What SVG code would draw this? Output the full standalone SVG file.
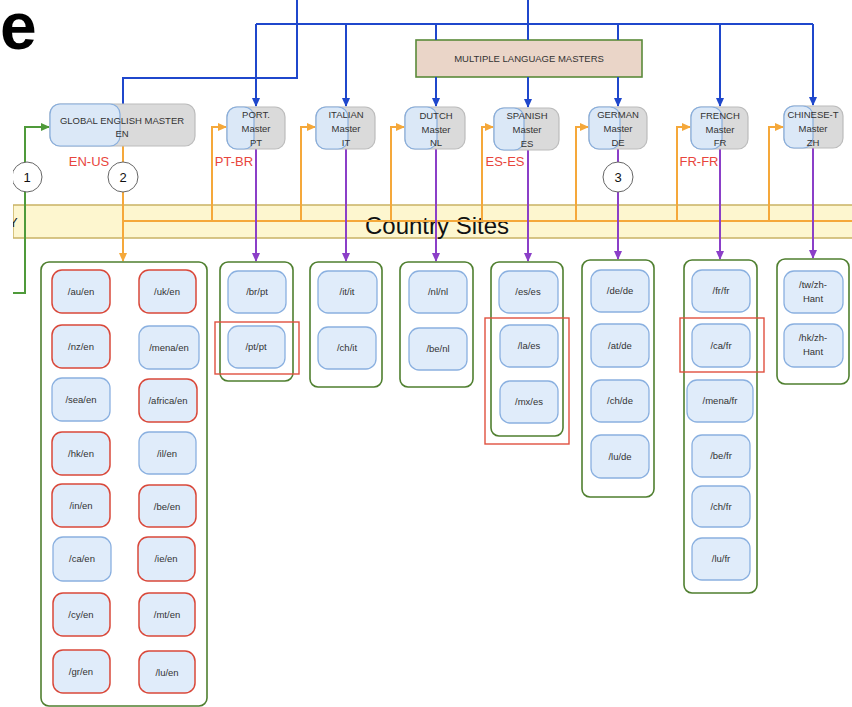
<svg xmlns="http://www.w3.org/2000/svg" width="852" height="707" viewBox="0 0 852 707">
<style>
text{font-family:"Liberation Sans",Arial,sans-serif;fill:#333}
.grp{fill:#fff;stroke:#4f7f2f;stroke-width:1.6}
.leaf{fill:#e0ecfa;stroke:#8ab0e0;stroke-width:1.3}
.leafr{fill:#e0ecfa;stroke:#d9483a;stroke-width:1.5}
.lt{font-size:9.5px;text-anchor:middle}
.mg{fill:#dadada;stroke:#bcbcbc;stroke-width:1.2}
.mb{fill:#dbe8f7;stroke:#88aedd;stroke-width:1.2}
.mt{font-size:9.5px;text-anchor:middle;fill:#333}
.red{font-size:13px;fill:#e8453c;text-anchor:middle}
.circ{fill:#fff;stroke:#666;stroke-width:1}
.ct{font-size:13px;text-anchor:middle;fill:#111}
.hl{fill:none;stroke:#e0513f;stroke-width:1.4}
.bl{fill:none;stroke:#1f47cc;stroke-width:2}
.or{fill:none;stroke:#f5a83a;stroke-width:2}
.pu{fill:none;stroke:#8b3fc8;stroke-width:2}
.gr{fill:none;stroke:#4f9a3a;stroke-width:2}
</style>
<defs>
<marker id="ab" markerWidth="10" markerHeight="10" refX="8" refY="5" orient="auto" markerUnits="userSpaceOnUse"><path d="M0,1 L9,5 L0,9 Z" fill="#1f47cc"/></marker>
<marker id="ao" markerWidth="10" markerHeight="10" refX="8" refY="5" orient="auto" markerUnits="userSpaceOnUse"><path d="M0,1 L9,5 L0,9 Z" fill="#f5a83a"/></marker>
<marker id="ap" markerWidth="10" markerHeight="10" refX="8" refY="5" orient="auto" markerUnits="userSpaceOnUse"><path d="M0,1 L9,5 L0,9 Z" fill="#8b3fc8"/></marker>
<marker id="ag" markerWidth="10" markerHeight="10" refX="8" refY="5" orient="auto" markerUnits="userSpaceOnUse"><path d="M0,1 L9,5 L0,9 Z" fill="#4f9a3a"/></marker>
<clipPath id="crop"><rect x="13" y="0" width="839" height="707"/></clipPath>
</defs>
<rect width="852" height="707" fill="#fff"/>
<text x="0" y="49" style="font-size:66px;font-weight:bold;fill:#000">e</text>

<g clip-path="url(#crop)">
<g id="country-sites">
<rect x="13" y="205" width="845" height="33" fill="#fdf6cf" stroke="#c9b264" stroke-width="1.5"/>
<text x="9" y="227" style="font-size:13px;fill:#222">Y</text>
<text x="437" y="234" style="font-size:24px;text-anchor:middle;fill:#111">Country Sites</text>
</g>

<g id="multi-masters">
<rect x="416" y="40" width="226" height="37" fill="#ead5c8" stroke="#5a8a3a" stroke-width="1.6"/>
<text class="mt" x="529" y="62">MULTIPLE LANGUAGE MASTERS</text>
</g>

<g id="connectors">
<path class="bl" d="M297,0 V78 H123 V104"/>
<path class="bl" d="M256,24 H813"/>
<path class="bl" d="M528,0 V40"/>
<path class="bl" d="M256,24 V106" marker-end="url(#ab)"/>
<path class="bl" d="M346,24 V106" marker-end="url(#ab)"/>
<path class="bl" d="M436,24 V40"/>
<path class="bl" d="M436,77 V106" marker-end="url(#ab)"/>
<path class="bl" d="M528,77 V107" marker-end="url(#ab)"/>
<path class="bl" d="M618,24 V40"/>
<path class="bl" d="M618,77 V106" marker-end="url(#ab)"/>
<path class="bl" d="M720,24 V106" marker-end="url(#ab)"/>
<path class="bl" d="M813,24 V105" marker-end="url(#ab)"/>

<path class="gr" d="M13,293 H25 V127 H49" marker-end="url(#ag)"/>

<path class="or" d="M123,146 V162"/>
<path class="or" d="M123,192 V261" marker-end="url(#ao)"/>
<path class="or" d="M123,221 H852"/>
<path class="or" d="M212,221 V127 H226" marker-end="url(#ao)"/>
<path class="or" d="M301,221 V127 H315" marker-end="url(#ao)"/>
<path class="or" d="M391,221 V127 H404" marker-end="url(#ao)"/>
<path class="or" d="M482,221 V127 H493" marker-end="url(#ao)"/>
<path class="or" d="M576,221 V127 H588" marker-end="url(#ao)"/>
<path class="or" d="M677,221 V127 H690" marker-end="url(#ao)"/>
<path class="or" d="M769,221 V127 H783" marker-end="url(#ao)"/>

<path class="pu" d="M256,149 V261" marker-end="url(#ap)"/>
<path class="pu" d="M346,149 V261" marker-end="url(#ap)"/>
<path class="pu" d="M436,149 V261" marker-end="url(#ap)"/>
<path class="pu" d="M528,150 V261" marker-end="url(#ap)"/>
<path class="pu" d="M618,149 V162"/>
<path class="pu" d="M618,192 V259" marker-end="url(#ap)"/>
<path class="pu" d="M720,149 V259" marker-end="url(#ap)"/>
<path class="pu" d="M813,148 V258" marker-end="url(#ap)"/>
</g>

<g id="circle-1"><circle class="circ" cx="27" cy="177" r="15"/><text class="ct" x="27" y="182">1</text></g>
<g id="circle-2"><circle class="circ" cx="123" cy="177" r="15"/><text class="ct" x="123" y="182">2</text></g>
<g id="circle-3"><circle class="circ" cx="618" cy="177" r="15"/><text class="ct" x="618" y="182">3</text></g>

<g id="master-en">
<rect class="mg" x="50" y="104" width="145" height="42" rx="10"/>
<rect class="mb" x="50" y="104" width="70" height="42" rx="10"/>
<text class="mt" x="122" y="124">GLOBAL ENGLISH MASTER</text>
<text class="mt" x="122" y="137">EN</text>
<text class="red" x="89" y="166">EN-US</text>
</g>
<g id="master-pt">
<rect class="mg" x="227" y="107" width="58" height="42" rx="10"/>
<rect class="mb" x="227" y="107" width="27" height="42" rx="10"/>
<text class="mt" x="256" y="118">PORT.</text><text class="mt" x="256" y="132">Master</text><text class="mt" x="256" y="146">PT</text>
<text class="red" x="234" y="166">PT-BR</text>
</g>
<g id="master-it">
<rect class="mg" x="316" y="107" width="59" height="42" rx="10"/>
<rect class="mb" x="316" y="107" width="32" height="42" rx="10"/>
<text class="mt" x="346" y="118">ITALIAN</text><text class="mt" x="346" y="132">Master</text><text class="mt" x="346" y="146">IT</text>
</g>
<g id="master-nl">
<rect class="mg" x="405" y="107" width="60" height="42" rx="10"/>
<rect class="mb" x="405" y="107" width="32" height="42" rx="10"/>
<text class="mt" x="436" y="119">DUTCH</text><text class="mt" x="436" y="133">Master</text><text class="mt" x="436" y="146">NL</text>
</g>
<g id="master-es">
<rect class="mg" x="494" y="108" width="65" height="42" rx="10"/>
<rect class="mb" x="494" y="108" width="30" height="42" rx="10"/>
<text class="mt" x="527" y="119">SPANISH</text><text class="mt" x="527" y="133">Master</text><text class="mt" x="527" y="147">ES</text>
<text class="red" x="505" y="166">ES-ES</text>
</g>
<g id="master-de">
<rect class="mg" x="589" y="107" width="58" height="42" rx="10"/>
<rect class="mb" x="589" y="107" width="31" height="42" rx="10"/>
<text class="mt" x="618" y="118">GERMAN</text><text class="mt" x="618" y="132">Master</text><text class="mt" x="618" y="146">DE</text>
</g>
<g id="master-fr">
<rect class="mg" x="691" y="107" width="57" height="42" rx="10"/>
<rect class="mb" x="691" y="107" width="31" height="42" rx="10"/>
<text class="mt" x="720" y="119">FRENCH</text><text class="mt" x="720" y="133">Master</text><text class="mt" x="720" y="146">FR</text>
<text class="red" x="699" y="166">FR-FR</text>
</g>
<g id="master-zh">
<rect class="mg" x="784" y="106" width="59" height="42" rx="10"/>
<rect class="mb" x="784" y="106" width="29" height="42" rx="10"/>
<text class="mt" x="813" y="118">CHINESE-T</text><text class="mt" x="813" y="132">Master</text><text class="mt" x="813" y="146">ZH</text>
</g>
</g>

<g id="group-en">
<rect class="grp" x="41" y="262" width="166" height="444" rx="8"/>
<g id="au-en"><rect class="leafr" x="52" y="270" width="58" height="43" rx="10"/><text class="lt" x="81" y="295">/au/en</text></g>
<g id="nz-en"><rect class="leafr" x="52" y="325" width="58" height="43" rx="10"/><text class="lt" x="81" y="350">/nz/en</text></g>
<g id="sea-en"><rect class="leaf" x="52" y="378" width="58" height="43" rx="10"/><text class="lt" x="81" y="403">/sea/en</text></g>
<g id="hk-en"><rect class="leafr" x="52" y="432" width="58" height="43" rx="10"/><text class="lt" x="81" y="457">/hk/en</text></g>
<g id="in-en"><rect class="leafr" x="52" y="484" width="58" height="43" rx="10"/><text class="lt" x="81" y="509">/in/en</text></g>
<g id="ca-en"><rect class="leaf" x="53" y="537" width="58" height="44" rx="10"/><text class="lt" x="82" y="562">/ca/en</text></g>
<g id="cy-en"><rect class="leafr" x="53" y="593" width="57" height="43" rx="10"/><text class="lt" x="81" y="618">/cy/en</text></g>
<g id="gr-en"><rect class="leafr" x="53" y="650" width="57" height="43" rx="10"/><text class="lt" x="81" y="675">/gr/en</text></g>
<g id="uk-en"><rect class="leafr" x="139" y="270" width="57" height="43" rx="10"/><text class="lt" x="167" y="295">/uk/en</text></g>
<g id="mena-en"><rect class="leaf" x="139" y="326" width="60" height="43" rx="10"/><text class="lt" x="169" y="351">/mena/en</text></g>
<g id="africa-en"><rect class="leafr" x="139" y="379" width="58" height="43" rx="10"/><text class="lt" x="168" y="404">/africa/en</text></g>
<g id="il-en"><rect class="leaf" x="139" y="432" width="57" height="42" rx="10"/><text class="lt" x="167" y="457">/il/en</text></g>
<g id="be-en"><rect class="leafr" x="139" y="485" width="57" height="42" rx="10"/><text class="lt" x="167" y="510">/be/en</text></g>
<g id="ie-en"><rect class="leafr" x="138" y="537" width="57" height="44" rx="10"/><text class="lt" x="166" y="562">/ie/en</text></g>
<g id="mt-en"><rect class="leafr" x="139" y="593" width="56" height="43" rx="10"/><text class="lt" x="167" y="618">/mt/en</text></g>
<g id="lu-en"><rect class="leafr" x="139" y="651" width="56" height="42" rx="10"/><text class="lt" x="167" y="676">/lu/en</text></g>
</g>

<g id="group-pt">
<rect class="grp" x="220" y="262" width="73" height="119" rx="8"/>
<g id="br-pt"><rect class="leaf" x="228" y="271" width="58" height="42" rx="10"/><text class="lt" x="257" y="295">/br/pt</text></g>
<g id="pt-pt"><rect class="leaf" x="228" y="326" width="57" height="42" rx="10"/><text class="lt" x="256" y="350">/pt/pt</text></g>
<rect class="hl" x="215" y="322" width="84" height="52"/>
</g>

<g id="group-it">
<rect class="grp" x="310" y="262" width="72" height="125" rx="8"/>
<g id="it-it"><rect class="leaf" x="318" y="271" width="59" height="42" rx="10"/><text class="lt" x="347" y="295">/it/it</text></g>
<g id="ch-it"><rect class="leaf" x="318" y="327" width="58" height="42" rx="10"/><text class="lt" x="347" y="351">/ch/it</text></g>
</g>

<g id="group-nl">
<rect class="grp" x="400" y="262" width="73" height="125" rx="8"/>
<g id="nl-nl"><rect class="leaf" x="409" y="271" width="58" height="42" rx="10"/><text class="lt" x="438" y="295">/nl/nl</text></g>
<g id="be-nl"><rect class="leaf" x="409" y="328" width="58" height="42" rx="10"/><text class="lt" x="438" y="352">/be/nl</text></g>
</g>

<g id="group-es">
<rect class="grp" x="491" y="262" width="72" height="174" rx="8"/>
<g id="es-es"><rect class="leaf" x="499" y="271" width="59" height="42" rx="10"/><text class="lt" x="528" y="295">/es/es</text></g>
<g id="la-es"><rect class="leaf" x="500" y="325" width="58" height="42" rx="10"/><text class="lt" x="529" y="349">/la/es</text></g>
<g id="mx-es"><rect class="leaf" x="500" y="381" width="58" height="42" rx="10"/><text class="lt" x="529" y="405">/mx/es</text></g>
<rect class="hl" x="485" y="318" width="84" height="126"/>
</g>

<g id="group-de">
<rect class="grp" x="582" y="260" width="72" height="237" rx="8"/>
<g id="de-de"><rect class="leaf" x="591" y="270" width="58" height="42" rx="10"/><text class="lt" x="620" y="294">/de/de</text></g>
<g id="at-de"><rect class="leaf" x="591" y="324" width="58" height="43" rx="10"/><text class="lt" x="620" y="349">/at/de</text></g>
<g id="ch-de"><rect class="leaf" x="591" y="380" width="58" height="42" rx="10"/><text class="lt" x="620" y="404">/ch/de</text></g>
<g id="lu-de"><rect class="leaf" x="591" y="435" width="58" height="43" rx="10"/><text class="lt" x="620" y="460">/lu/de</text></g>
</g>

<g id="group-fr">
<rect class="grp" x="684" y="260" width="73" height="333" rx="8"/>
<g id="fr-fr"><rect class="leaf" x="692" y="270" width="58" height="42" rx="10"/><text class="lt" x="721" y="294">/fr/fr</text></g>
<g id="ca-fr"><rect class="leaf" x="692" y="324" width="58" height="43" rx="10"/><text class="lt" x="721" y="349">/ca/fr</text></g>
<g id="mena-fr"><rect class="leaf" x="687" y="380" width="66" height="42" rx="10"/><text class="lt" x="720" y="404">/mena/fr</text></g>
<g id="be-fr"><rect class="leaf" x="692" y="435" width="58" height="42" rx="10"/><text class="lt" x="721" y="459">/be/fr</text></g>
<g id="ch-fr"><rect class="leaf" x="692" y="486" width="58" height="41" rx="10"/><text class="lt" x="721" y="510">/ch/fr</text></g>
<g id="lu-fr"><rect class="leaf" x="692" y="538" width="58" height="42" rx="10"/><text class="lt" x="721" y="562">/lu/fr</text></g>
<rect class="hl" x="680" y="318" width="84" height="54"/>
</g>

<g id="group-zh">
<rect class="grp" x="777" y="259" width="72" height="125" rx="8"/>
<g id="tw-zh"><rect class="leaf" x="784" y="271" width="59" height="42" rx="10"/><text class="lt" x="813" y="288">/tw/zh-</text><text class="lt" x="813" y="302">Hant</text></g>
<g id="hk-zh"><rect class="leaf" x="784" y="324" width="59" height="43" rx="10"/><text class="lt" x="813" y="341">/hk/zh-</text><text class="lt" x="813" y="355">Hant</text></g>
</g>
</svg>
